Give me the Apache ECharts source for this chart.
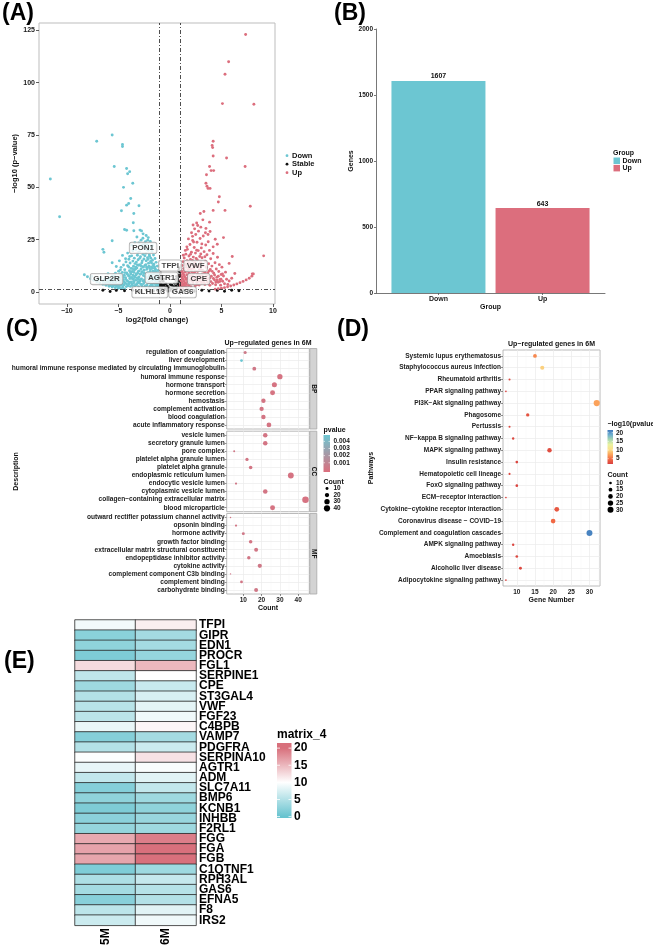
<!DOCTYPE html>
<html>
<head>
<meta charset="utf-8">
<script src="https://cdn.jsdelivr.net/npm/echarts@6/dist/echarts.min.js"></script>
<style>
    html, body { margin: 0; padding: 0; background: #fff; }
    #main { width: 653px; height: 948px; }
</style>
</head>
<body>
<div id="main"></div>
<script>
    // ---------- (A) volcano ----------
    const volcanoDown = [
        [-1.02,1.4],[-1.04,3.6],[-1.07,5.8],[-1.09,8.1],[-1.12,2.5],[-1.14,10.3],[-1.17,4.7],[-1.19,6.9],[-1.22,12.4],[-1.24,1.8],
        [-1.27,3.9],[-1.29,7.6],[-1.32,9.5],[-1.34,14.2],[-1.37,2.9],[-1.39,5.3],[-1.42,11.1],[-1.44,16.0],[-1.47,6.4],[-1.49,8.8],
        [-1.52,1.6],[-1.54,4.2],[-1.57,13.3],[-1.59,17.7],[-1.62,7.1],[-1.64,10.0],[-1.67,2.7],[-1.69,15.2],[-1.72,5.5],[-1.74,19.4],
        [-1.77,8.4],[-1.79,12.0],[-1.82,3.3],[-1.84,6.2],[-1.87,14.6],[-1.89,21.0],[-1.92,9.9],[-1.94,4.6],[-1.97,17.1],[-1.99,11.6],
        [-2.02,2.1],[-2.05,7.7],[-2.07,13.8],[-2.1,19.9],[-2.12,5.0],[-2.15,9.3],[-2.17,16.4],[-2.2,22.6],[-2.22,3.4],[-2.25,11.9],
        [-2.27,6.6],[-2.3,14.9],[-2.32,18.5],[-2.35,8.7],[-2.37,24.1],[-2.4,2.8],[-2.42,12.7],[-2.45,5.9],[-2.47,20.8],[-2.5,10.4],
        [-2.52,15.8],[-2.55,4.1],[-2.57,7.9],[-2.6,18.0],[-2.62,25.7],[-2.65,12.1],[-2.67,2.4],[-2.7,9.7],[-2.72,14.0],[-2.75,6.3],
        [-2.77,21.9],[-2.8,11.0],[-2.82,3.8],[-2.85,16.9],[-2.87,8.5],[-2.9,13.1],[-2.92,5.2],[-2.95,19.2],[-2.97,10.1],[-3.0,7.2],
        [-3.03,2.6],[-3.05,12.8],[-3.08,15.4],[-3.1,4.9],[-3.13,9.0],[-3.15,17.6],[-3.18,6.8],[-3.2,11.5],[-3.23,3.5],[-3.25,14.3],
        [-3.28,8.2],[-3.3,20.3],[-3.33,5.7],[-3.35,10.9],[-3.38,13.6],[-3.4,2.9],[-3.43,7.5],[-3.45,16.2],[-3.48,9.4],[-3.5,4.4],
        [-3.53,12.3],[-3.56,6.1],[-3.59,14.8],[-3.62,3.1],[-3.65,9.8],[-3.68,7.0],[-3.71,17.3],[-3.74,4.8],[-3.77,11.3],[-3.8,8.6],
        [-3.83,2.7],[-3.86,13.9],[-3.89,6.5],[-3.92,10.2],[-3.95,4.0],[-3.98,15.7],[-4.02,7.8],[-4.06,3.0],[-4.1,12.6],[-4.14,5.4],
        [-4.18,9.1],[-4.22,2.6],[-4.26,14.4],[-4.3,6.9],[-4.34,4.3],[-4.38,10.7],[-4.42,8.0],[-4.46,3.4],[-4.5,12.9],[-4.54,5.9],
        [-4.58,2.4],[-4.62,9.4],[-4.66,7.3],[-4.7,4.5],[-4.74,11.8],[-4.78,3.2],[-4.82,6.4],[-4.86,8.7],[-4.9,2.2],[-4.94,5.1],
        [-4.98,10.0],[-5.05,3.6],[-5.1,7.0],[-5.16,2.8],[-5.22,4.9],[-5.28,9.0],[-5.34,3.3],[-5.4,6.2],[-5.46,4.2],[-5.52,2.9],
        [-5.58,7.9],[-5.64,3.7],[-5.7,5.4],[-5.78,3.1],[-5.86,4.6],[-5.94,6.7],[-6.02,3.9],[-6.1,5.5],[-6.2,4.3],[-6.35,6.0],
        [-6.5,5.2],[-6.7,7.0],[-4.4,1.5],[-4.7,1.6],[-5.0,1.8],[-5.3,2.1],[-5.6,2.4],[-5.9,2.8],[-6.2,3.2],[-6.5,3.7],
        [-6.8,4.3],[-7.1,4.9],[-7.4,5.6],[-7.7,6.4],[-8.0,7.3],[-8.3,8.3],[-7.0,5.6],[-7.6,7.4],
        [-1.08,2.9],[-1.13,6.2],[-1.18,9.0],[-1.23,3.1],[-1.28,5.0],[-1.33,7.0],[-1.38,10.6],[-1.43,4.1],[-1.48,12.0],[-1.53,2.4],
        [-1.58,8.9],[-1.63,5.9],[-1.68,11.4],[-1.73,3.7],[-1.78,13.9],[-1.83,7.4],[-1.88,10.8],[-1.93,2.9],[-1.98,8.0],[-2.03,12.3],
        [-2.08,4.6],[-2.13,15.6],[-2.18,6.9],[-2.23,10.9],[-2.28,3.0],[-2.33,13.1],[-2.38,7.3],[-2.43,17.3],[-2.48,4.9],[-2.53,9.1],
        [-2.58,11.9],[-2.63,5.4],[-2.68,14.9],[-2.73,3.3],[-2.78,8.8],[-2.83,12.6],[-2.88,6.0],[-2.93,16.1],[-2.98,4.3],[-3.06,9.9],
        [-3.11,6.1],[-3.16,13.0],[-3.21,4.0],[-3.26,8.6],[-3.31,11.9],[-3.36,3.2],[-3.41,6.9],[-3.46,10.6],[-3.51,5.1],[-3.57,8.0],
        [-3.63,11.2],[-3.69,3.8],[-3.75,6.6],[-3.81,9.5],[-3.87,4.7],[-3.93,7.6],[-3.99,12.0],[-4.04,5.0],[-4.12,8.5],[-4.2,3.9],
        [-4.28,6.1],[-4.36,9.3],[-4.44,4.9],[-4.52,7.0],[-4.6,3.7],[-4.68,5.6],[-4.76,8.2],[-4.84,4.1],[-4.92,6.9],[-5.0,3.1],
        [-5.13,5.6],[-5.25,3.9],[-5.37,7.4],[-5.5,4.9],[-5.62,6.3],[-5.75,4.0],[-5.9,5.5],[-6.05,4.8],[-6.3,4.4],[-2.0,17.8],
        [-2.2,20.2],[-2.4,21.6],[-2.6,22.8],[-2.8,24.8],[-3.0,23.4],[-2.15,24.8],[-1.85,16.2],[-1.6,12.6],[-1.45,9.8],[-1.25,8.2],
        [-1.15,6.6],[-3.1,18.8],[-3.6,19.7],[-3.9,17.0],[-4.3,15.9],[-4.8,10.6],[-5.4,8.3],[-6.0,8.8],[-6.9,6.2],
        [-11.6,54],[-10.7,36],[-7.1,72],[-5.6,75],[-4.6,70.5],[-4.6,69.5],[-5.4,60],[-4.2,59],[-3.9,57.5],[-4.1,56.5],
        [-3.6,52],[-4.5,50],[-3.8,44.7],[-4.0,42.3],[-4.2,41.5],[-4.7,38.8],[-3.0,41.2],[-3.5,37.5],[-3.55,33.1],[-4.4,29.9],
        [-4.2,29.5],[-3.5,29.3],[-2.9,29.6],[-2.75,29.2],[-5.6,24.5],[-6.5,20.4],[-6.4,19],[-5.6,14],[-2.3,27.0],[-2.1,26.0],
        [-1.9,24.2],[-2.6,27.8],[-3.2,26.3],[-3.7,22.4],[-4.1,18.6],[-4.6,17.5],[-4.9,14.9],[-5.2,12.2],[-3.4,23.6],[-2.45,23.0],[-1.7,22.2]
    ];
    const volcanoStable = [
        [-0.9,0.5],[-0.8,1.8],[-0.7,3.1],[-0.6,0.9],[-0.5,2.4],[-0.4,4.0],[-0.3,1.2],[-0.2,0.4],[-0.1,2.0],[0,0.7],
        [0.1,1.5],[0.2,3.3],[0.3,0.3],[0.4,2.6],[0.5,1.1],[0.6,4.5],[0.7,2.0],[0.75,6.2],[0.8,3.7],[0.85,8.0],
        [0.9,5.1],[0.95,9.6],[-0.95,4.8],[-0.85,6.3],[-0.75,2.6],[-0.65,5.0],[-0.95,7.2],[-0.9,3.3],[0.65,7.5],[0.9,11.5],
        [0.55,6.0],[-1.2,0.8],[-1.6,0.5],[-2.3,1.0],[-2.9,0.3],[-3.6,0.9],[-4.4,0.6],[-5.2,0.8],[-5.8,0.3],[-6.5,0.9],
        [1.3,0.6],[1.8,1.0],[2.4,0.4],[3.1,0.9],[3.8,0.5],[4.6,0.8],[5.3,0.4],[6.0,0.9],[6.7,0.6],
        [-0.95,2.2],[-0.85,3.9],[-0.7,5.6],[-0.55,3.4],[-0.45,1.7],[-0.25,2.9],[0.05,3.6],[0.25,1.9],[0.45,4.2],[0.6,2.9],
        [0.7,6.8],[0.8,5.4],[0.85,10.3],[0.95,7.4],[0.9,2.8],[-0.9,9.1],[-0.8,7.6],[-0.6,6.3]
    ];
    const volcanoUp = [
        [1.02,1.5],[1.04,3.4],[1.07,5.6],[1.09,7.9],[1.12,2.4],[1.14,10.0],[1.17,4.5],[1.19,12.7],[1.22,6.6],[1.24,1.9],
        [1.27,8.8],[1.29,14.5],[1.32,3.7],[1.34,11.2],[1.37,5.1],[1.39,16.3],[1.42,7.4],[1.44,2.8],[1.47,9.6],[1.49,13.4],
        [1.52,4.3],[1.55,18.1],[1.57,6.0],[1.6,11.8],[1.62,2.2],[1.65,8.3],[1.67,15.0],[1.7,20.4],[1.72,4.9],[1.75,10.6],
        [1.77,7.0],[1.8,13.9],[1.82,3.1],[1.85,17.2],[1.87,9.1],[1.9,5.8],[1.92,12.3],[1.95,22.7],[1.97,7.7],[2.0,15.6],
        [2.03,2.6],[2.06,10.9],[2.09,19.0],[2.12,5.3],[2.15,13.0],[2.18,8.2],[2.21,24.6],[2.24,3.9],[2.27,16.7],[2.3,11.4],
        [2.33,6.7],[2.36,21.3],[2.39,9.4],[2.42,14.1],[2.45,2.9],[2.48,18.6],[2.51,27.5],[2.54,7.2],[2.57,12.2],[2.6,4.6],
        [2.63,23.8],[2.66,15.3],[2.69,9.9],[2.72,5.6],[2.75,19.8],[2.78,29.1],[2.81,12.9],[2.84,3.4],[2.87,8.1],[2.9,17.0],
        [2.93,25.6],[2.96,6.3],[2.99,14.2],[3.02,10.5],[3.05,21.1],[3.08,4.2],[3.12,16.4],[3.16,8.6],[3.2,12.6],[3.24,26.8],
        [3.28,5.5],[3.32,19.3],[3.36,9.6],[3.4,3.6],[3.44,14.7],[3.48,22.5],[3.52,7.3],[3.56,11.7],[3.6,17.8],[3.64,4.8],
        [3.68,9.2],[3.72,24.0],[3.76,13.5],[3.8,6.5],[3.84,19.9],[3.88,3.2],[3.92,10.8],[3.96,15.9],[4.02,7.6],[4.08,12.4],
        [4.14,4.1],[4.2,18.4],[4.26,9.0],[4.32,5.9],[4.38,14.0],[4.44,3.5],[4.5,11.0],[4.56,7.1],[4.62,16.6],[4.68,4.7],
        [4.74,9.8],[4.8,13.1],[4.86,6.0],[4.92,3.3],[4.98,8.4],[5.05,11.9],[5.12,5.2],[5.2,7.7],[5.3,4.0],[5.4,9.5],
        [5.5,6.1],[5.62,3.6],[5.75,5.3],[4.4,1.4],[4.7,1.6],[5.0,1.8],[5.3,2.1],[5.6,2.5],[5.9,2.9],[6.2,3.4],
        [6.5,3.9],[6.8,4.5],[7.1,5.1],[7.4,5.8],[7.7,6.6],[7.95,7.6],[8.1,8.6],[6.0,6.6],[6.3,8.9],
        [1.06,2.8],[1.11,5.0],[1.16,7.2],[1.21,9.4],[1.26,3.0],[1.31,5.9],[1.36,8.2],[1.41,10.5],[1.46,4.2],[1.51,6.8],
        [1.56,12.9],[1.61,3.6],[1.66,9.9],[1.71,6.4],[1.76,14.4],[1.81,4.6],[1.86,11.0],[1.91,8.5],[1.96,3.9],[2.01,13.3],
        [2.07,6.1],[2.13,9.7],[2.19,15.1],[2.25,4.8],[2.31,8.9],[2.37,12.6],[2.43,6.0],[2.49,10.1],[2.55,16.0],[2.61,3.5],
        [2.67,8.6],[2.73,12.0],[2.79,5.1],[2.85,10.4],[2.91,7.0],[2.97,11.6],[3.03,5.0],[3.1,8.0],[3.18,10.3],[3.26,6.9],
        [3.34,4.4],[3.42,9.0],[3.5,12.0],[3.58,6.0],[3.66,8.2],[3.74,4.0],[3.82,10.1],[3.9,6.8],[3.98,5.0],[4.1,9.9],
        [4.22,6.5],[4.34,8.1],[4.46,4.8],[4.58,5.7],[4.7,7.6],[4.84,5.0],[4.96,6.1],[1.3,17.6],[1.5,19.9],[1.65,21.6],
        [2.0,18.0],[2.3,23.9],[2.6,20.0],[2.2,26.6],[3.0,18.2],[3.4,16.9],[3.1,23.0],
        [7.35,123],[5.7,110],[5.35,104],[5.1,90],[8.15,89.7],[4.2,72],[4.1,70],[4.15,69],[4.2,65],[5.5,64],
        [7.3,60],[3.85,60],[4.0,58],[4.25,58],[3.55,56],[3.5,52],[3.6,50.5],[3.7,49.5],[3.9,49.5],[4.8,45.5],
        [4.7,43],[7.8,41],[5.35,39],[4.2,39],[3.3,38.5],[2.95,37.5],[3.85,33.4],[2.6,33],[2.25,32],[3.0,31],
        [5.2,26],[3.45,28.3],[3.7,27.5],[4.2,21.6],[6.05,17],[5.75,13.7],[9.1,17.3],[5.1,8.6],[8.0,8.7],[2.4,30.2],
        [2.7,31.8],[3.2,34.5],[3.5,30.4],[4.4,25.2],[4.6,22.8],[3.9,28.9],[2.1,28.3],[1.8,25.4]
    ];
    const volcanoLabels = [
        ['PON1', -2.6, 21.1], ['TFPI', 0.03, 12.7], ['VWF', 2.5, 12.5], ['AGTR1', -0.8, 6.8],
        ['CPE', 2.8, 6.2], ['GLP2R', -6.15, 6.2], ['KLHL13', -1.94, -0.1], ['GAS6', 1.23, -0.1]
    ];
    const volcanoXTicks = [-10, -5, 0, 5, 10];
    const volcanoYTicks = [0, 25, 50, 75, 100, 125];

    // ---------- (B) bar ----------
    const barGroups = ['Down', 'Up'];
    const barValues = [1607, 643];
    const barYTicks = [0, 500, 1000, 1500, 2000];

    // ---------- (C) GO dot plot ----------
    const goBP = ['regulation of coagulation', 'liver development', 'humoral immune response mediated by circulating immunoglobulin',
        'humoral immune response', 'hormone transport', 'hormone secretion', 'hemostasis', 'complement activation',
        'blood coagulation', 'acute inflammatory response'];
    const goBPCount = [11, 9, 16, 30, 27, 26, 21, 20, 21, 24];
    const goBPP = [0.0004, 0.0049, 0.0003, 0.00001, 0.00002, 0.00003, 0.0001, 0.0001, 0.0001, 0.00005];
    const goCC = ['vesicle lumen', 'secretory granule lumen', 'pore complex', 'platelet alpha granule lumen', 'platelet alpha granule',
        'endoplasmic reticulum lumen', 'endocytic vesicle lumen', 'cytoplasmic vesicle lumen',
        'collagen\u2212containing extracellular matrix', 'blood microparticle'];
    const goCCCount = [22, 22, 5, 12, 14, 36, 6, 22, 44, 26];
    const goCCP = [0.0001, 0.0001, 0.0003, 0.0002, 0.0001, 0.00001, 0.0003, 0.0001, 0.000001, 0.00001];
    const goMF = ['outward rectifier potassium channel activity', 'opsonin binding', 'hormone activity', 'growth factor binding',
        'extracellular matrix structural constituent', 'endopeptidase inhibitor activity', 'cytokine activity',
        'complement component C3b binding', 'complement binding', 'carbohydrate binding'];
    const goMFCount = [3, 6, 10, 14, 17, 13, 19, 3, 9, 17];
    const goMFP = [0.0003, 0.0002, 0.0003, 0.0001, 0.0002, 0.0002, 0.0003, 0.0003, 0.0002, 0.0003];
    const goXTicks = [10, 20, 30, 40];
    const goPTicks = [0.001, 0.002, 0.003, 0.004];
    const goSizeBreaks = [10, 20, 30, 40];

    // ---------- (D) KEGG dot plot ----------
    const keggNames = ['Systemic lupus erythematosus', 'Staphylococcus aureus infection', 'Rheumatoid arthritis',
        'PPAR signaling pathway', 'PI3K\u2212Akt signaling pathway', 'Phagosome', 'Pertussis', 'NF\u2212kappa B signaling pathway',
        'MAPK signaling pathway', 'Insulin resistance', 'Hematopoietic cell lineage', 'FoxO signaling pathway',
        'ECM\u2212receptor interaction', 'Cytokine\u2212cytokine receptor interaction', 'Coronavirus disease \u2212 COVID\u221219',
        'Complement and coagulation cascades', 'AMPK signaling pathway', 'Amoebiasis', 'Alcoholic liver disease',
        'Adipocytokine signaling pathway'];
    const keggCount = [15, 17, 8, 7, 32, 13, 8, 9, 19, 10, 8, 10, 7, 21, 20, 30, 9, 10, 11, 7];
    const keggLogP = [6.2, 9.6, 2.6, 2.3, 7.4, 3.3, 2.6, 2.5, 2.9, 2.4, 2.5, 2.3, 2.2, 3.6, 4.6, 21.0, 2.4, 2.5, 2.6, 2.2];
    const keggXTicks = [10, 15, 20, 25, 30];
    const keggColorTicks = [5, 10, 15, 20];
    const keggSizeBreaks = [10, 15, 20, 25, 30];

    // ---------- (E) heatmap ----------
    const heatCols = ['5M', '6M'];
    const heatGenes = ['TFPI', 'GIPR', 'EDN1', 'PROCR', 'FGL1', 'SERPINE1', 'CPE', 'ST3GAL4', 'VWF', 'FGF23', 'C4BPB', 'VAMP7',
        'PDGFRA', 'SERPINA10', 'AGTR1', 'ADM', 'SLC7A11', 'BMP6', 'KCNB1', 'INHBB', 'F2RL1', 'FGG', 'FGA', 'FGB', 'C1QTNF1',
        'RPH3AL', 'GAS6', 'EFNA5', 'F8', 'IRS2'];
    const heat5M = [9.2, 2.3, 2.6, 1.5, 12.5, 5.8, 3.6, 5.0, 5.3, 5.5, 8.6, 2.0, 5.0, 9.8, 8.5, 6.0, 2.0, 2.6, 1.5, 2.4, 3.0,
        16.0, 16.5, 16.3, 1.6, 4.6, 4.0, 2.2, 5.6, 6.6];
    const heat6M = [11.2, 4.0, 4.0, 3.0, 15.0, 10.0, 6.4, 7.4, 8.2, 9.0, 10.6, 4.0, 6.6, 12.0, 9.6, 8.0, 6.0, 3.6, 2.6, 3.2, 3.6,
        19.0, 20.0, 20.0, 3.6, 6.2, 5.2, 5.0, 8.0, 9.0];
    const heatTicks = [0, 5, 10, 15, 20];

    // ---------- style ----------
    const FONT = '"Liberation Sans", Arial, sans-serif';
    const CYAN = '#6CC6D2';
    const PINK = '#DC6E7D';
    const minus = v => (v < 0 ? '\u2212' + Math.abs(v) : String(v));
    const bold = (size, color) => ({ fontFamily: FONT, fontWeight: 'bold', fontSize: size, color: color || '#1a1a1a' });
    const txt = (x, y, s, o) => ({
        type: 'text', x: x, y: y, silent: true, rotation: (o && o.rotation) || 0,
        style: Object.assign({ text: s, fontFamily: FONT, fontWeight: 'bold', fontSize: 7, fill: '#111', align: 'left', verticalAlign: 'middle' }, o && o.style)
    });
    const sizeGO = c => Math.max(1.3, 6.5 * Math.sqrt((c - 1) / 43));
    const sizeKEGG = c => Math.max(1.4, 6.2 * Math.sqrt((c - 5) / 27));

    const chart = echarts.init(document.getElementById('main'), null, { renderer: 'canvas', width: 653, height: 948 });

    const grids = [
        { left: 39, top: 23, width: 236, height: 281, show: true, borderColor: '#BDBDBD', borderWidth: 1, backgroundColor: '#fff' },
        { left: 376, top: 29, width: 229, height: 264 },
        { left: 226.7, top: 348.5, width: 82.6, height: 80.5, show: true, borderColor: '#A8A8A8', borderWidth: 0.8, backgroundColor: '#fff' },
        { left: 226.7, top: 431.2, width: 82.6, height: 80.5, show: true, borderColor: '#A8A8A8', borderWidth: 0.8, backgroundColor: '#fff' },
        { left: 226.7, top: 513.5, width: 82.6, height: 80.5, show: true, borderColor: '#A8A8A8', borderWidth: 0.8, backgroundColor: '#fff' },
        { left: 503, top: 350, width: 97, height: 236, show: true, borderColor: '#A8A8A8', borderWidth: 0.8, backgroundColor: '#fff' },
        { left: 75, top: 620, width: 121, height: 308.3 }
    ];

    const noLine = { show: false, onZero: false };
    const goX = (gi, last) => ({
        gridIndex: gi, type: 'value', min: 0.9, max: 46.1,
        axisLine: noLine, splitLine: { show: false },
        axisTick: { show: last, customValues: goXTicks, length: 2, lineStyle: { color: '#444', width: 0.6 } },
        axisLabel: { show: last, customValues: goXTicks, margin: 3, ...bold(6.5, '#222') },
        name: last ? 'Count' : '', nameLocation: 'middle', nameGap: 9, nameTextStyle: bold(7, '#111')
    });
    const catY = (gi, data, fs, name, gap) => ({
        gridIndex: gi, type: 'category', data: data, inverse: true,
        axisLine: noLine, splitLine: { show: false },
        axisTick: { show: true, alignWithLabel: true, length: 2, lineStyle: { color: '#444', width: 0.6 } },
        axisLabel: { interval: 0, margin: 2, ...bold(fs, '#222') },
        name: name || '', nameLocation: 'middle', nameGap: gap || 0, nameTextStyle: bold(7, '#111')
    });

    const xAxes = [
        {
            gridIndex: 0, type: 'value', min: -12.7, max: 10.2, axisLine: noLine, splitLine: { show: false },
            axisTick: { customValues: volcanoXTicks, length: 3, lineStyle: { color: '#333', width: 0.8 } },
            axisLabel: { customValues: volcanoXTicks, formatter: minus, margin: 4, ...bold(7) },
            name: 'log2(fold change)', nameLocation: 'middle', nameGap: 11, nameTextStyle: bold(7.5, '#111')
        },
        {
            gridIndex: 1, type: 'value', min: 0.4, max: 2.6, splitLine: { show: false },
            axisLine: { show: true, onZero: false, lineStyle: { color: '#555', width: 0.8 } },
            axisTick: { customValues: [1, 2], length: 2, lineStyle: { color: '#555', width: 0.8 } },
            axisLabel: { customValues: [1, 2], formatter: v => barGroups[Math.round(v) - 1], margin: 3, ...bold(7) },
            name: 'Group', nameLocation: 'middle', nameGap: 7, nameTextStyle: bold(7, '#111')
        },
        goX(2, false), goX(3, false), goX(4, true),
        {
            gridIndex: 5, type: 'value', min: 6.2, max: 32.9, axisLine: noLine, splitLine: { show: false },
            axisTick: { customValues: keggXTicks, length: 2, lineStyle: { color: '#444', width: 0.6 } },
            axisLabel: { customValues: keggXTicks, margin: 3, ...bold(6.5, '#222') },
            name: 'Gene Number', nameLocation: 'middle', nameGap: 9, nameTextStyle: bold(7, '#111')
        },
        {
            gridIndex: 6, type: 'category', data: heatCols, position: 'bottom',
            axisLine: noLine, axisTick: { show: false }, splitLine: { show: false },
            axisLabel: { rotate: 90, margin: 3, interval: 0, ...bold(12, '#000') }
        }
    ];

    const yAxes = [
        {
            gridIndex: 0, type: 'value', min: -5.7, max: 128.5, axisLine: noLine, splitLine: { show: false },
            axisTick: { customValues: volcanoYTicks, length: 3, lineStyle: { color: '#333', width: 0.8 } },
            axisLabel: { customValues: volcanoYTicks, margin: 4, ...bold(7) },
            name: '\u2212log10 (p\u2212value)', nameLocation: 'middle', nameGap: 13, nameTextStyle: bold(7.5, '#111')
        },
        {
            gridIndex: 1, type: 'value', min: 0, max: 2000, splitLine: { show: false },
            axisLine: { show: true, onZero: false, lineStyle: { color: '#555', width: 0.8 } },
            axisTick: { show: true, customValues: barYTicks, length: 2, lineStyle: { color: '#555', width: 0.8 } },
            axisLabel: { customValues: barYTicks, formatter: v => String(v), margin: 3, ...bold(6.5) },
            name: 'Genes', nameLocation: 'middle', nameGap: 19, nameTextStyle: bold(7, '#111')
        },
        catY(2, goBP, 6.6), catY(3, goCC, 6.6, 'Description', 207), catY(4, goMF, 6.6),
        catY(5, keggNames, 6.5, 'Pathways', 117),
        {
            gridIndex: 6, type: 'category', data: heatGenes, inverse: true, position: 'right',
            axisLine: noLine, axisTick: { show: false }, splitLine: { show: false },
            axisLabel: { interval: 0, margin: 3, ...bold(12, '#000') }
        }
    ];

    // grid lines drawn as mark lines so they sit exactly on the ggplot breaks
    const gridLines = (axisIdx, xs, minors, cats) => ({
        type: 'scatter', xAxisIndex: axisIdx, yAxisIndex: axisIdx, data: [], z: 1, silent: true,
        markLine: {
            silent: true, z: 1, symbol: ['none', 'none'], label: { show: false }, animation: false,
            lineStyle: { color: '#EBEBEB', width: 0.7, type: 'solid' },
            data: xs.map(v => ({ xAxis: v }))
                .concat(minors.map(v => ({ xAxis: v, lineStyle: { color: '#F3F3F3', width: 0.4, type: 'solid' } })))
                .concat(cats.map(c => ({ yAxis: c })))
        }
    });

    const series = [];
    const dot = { opacity: 1 };
    series.push({ type: 'scatter', name: 'Down', xAxisIndex: 0, yAxisIndex: 0, data: volcanoDown, symbolSize: 2.9, itemStyle: { color: CYAN, opacity: 1 }, z: 3 });
    series.push({ type: 'scatter', name: 'Stable', xAxisIndex: 0, yAxisIndex: 0, data: volcanoStable, symbolSize: 2.9, itemStyle: { color: '#111', opacity: 1 }, z: 3 });
    series.push({ type: 'scatter', name: 'Up', xAxisIndex: 0, yAxisIndex: 0, data: volcanoUp, symbolSize: 2.9, itemStyle: { color: PINK, opacity: 1 }, z: 3 });
    series.push({
        type: 'line', xAxisIndex: 0, yAxisIndex: 0, data: [], z: 4, silent: true,
        markLine: {
            silent: true, symbol: ['none', 'none'], label: { show: false }, animation: false,
            lineStyle: { color: '#222', width: 0.8, type: [4, 2, 1, 2] },
            data: [{ xAxis: -1 }, { xAxis: 1 }, { yAxis: 1.3 }]
        }
    });
    series.push({
        type: 'scatter', xAxisIndex: 0, yAxisIndex: 0, z: 6, symbolSize: 1, itemStyle: { color: 'transparent' },
        data: volcanoLabels.map(l => [l[1], l[2], l[0]]),
        label: {
            show: true, position: 'inside', formatter: p => p.data[2], ...bold(8, '#111'),
            backgroundColor: '#fff', borderColor: '#9E9E9E', borderWidth: 0.8, borderRadius: 2, padding: [1.5, 2.5, 1, 2.5]
        },
        labelLayout: { hideOverlap: false }
    });
    series.push({
        type: 'bar', xAxisIndex: 1, yAxisIndex: 1, barWidth: 94,
        data: barGroups.map((g, i) => ({ value: [i + 1, barValues[i]], itemStyle: { color: i === 0 ? CYAN : PINK } })),
        label: { show: true, position: 'top', distance: 1, formatter: p => p.value[1], ...bold(7, '#111') }
    });
    series.push(gridLines(2, goXTicks, [5, 15, 25, 35, 45], goBP));
    series.push(gridLines(3, goXTicks, [5, 15, 25, 35, 45], goCC));
    series.push(gridLines(4, goXTicks, [5, 15, 25, 35, 45], goMF));
    const goIdx = [];
    [[goBP, goBPCount, goBPP], [goCC, goCCCount, goCCP], [goMF, goMFCount, goMFP]].forEach((f, k) => {
        goIdx.push(series.length);
        series.push({
            type: 'scatter', xAxisIndex: 2 + k, yAxisIndex: 2 + k, z: 3, itemStyle: dot,
            data: f[0].map((t, i) => [f[1][i], t, f[2][i]]),
            symbolSize: d => sizeGO(d[0])
        });
    });
    series.push(gridLines(5, keggXTicks, [7.5, 12.5, 17.5, 22.5, 27.5, 32.5], keggNames));
    const keggIdx = series.length;
    series.push({
        type: 'scatter', xAxisIndex: 5, yAxisIndex: 5, z: 3, itemStyle: dot,
        data: keggNames.map((t, i) => [keggCount[i], t, keggLogP[i]]),
        symbolSize: d => sizeKEGG(d[0])
    });
    const heatIdx = series.length;
    const heatData = [];
    heatGenes.forEach((g, i) => { heatData.push([0, i, heat5M[i]]); heatData.push([1, i, heat6M[i]]); });
    series.push({
        type: 'heatmap', xAxisIndex: 6, yAxisIndex: 6, data: heatData,
        itemStyle: { borderColor: '#2a2a2a', borderWidth: 0.8 }
    });

    const goColors = [PINK, CYAN];
    const keggColors = ['#D73F3F', '#F26A44', '#FBA55C', '#FBE08A', '#E9F2A0', '#A9D8B0', '#6DAFCF', '#3F78BC'];
    const heatColors = ['#67C3CF', '#FFFFFF', '#D8707C'];
    const goPRange = [-0.0003, 0.0049];
    const keggRange = [1.94, 21.56];

    const visualMaps = [
        { type: 'continuous', show: false, seriesIndex: goIdx, dimension: 2, min: goPRange[0], max: goPRange[1], inRange: { color: goColors } },
        { type: 'continuous', show: false, seriesIndex: keggIdx, dimension: 2, min: keggRange[0], max: keggRange[1], inRange: { color: keggColors } },
        { type: 'continuous', show: false, seriesIndex: heatIdx, dimension: 2, min: 0, max: 20, inRange: { color: heatColors } }
    ];

    // ---------- legends, strips, titles ----------
    const g = [];
    g.push(txt(2, 14, '(A)', { style: { fontSize: 23, fill: '#000' } }));
    g.push(txt(334, 14, '(B)', { style: { fontSize: 23, fill: '#000' } }));
    g.push(txt(6, 330, '(C)', { style: { fontSize: 23, fill: '#000' } }));
    g.push(txt(337, 330, '(D)', { style: { fontSize: 23, fill: '#000' } }));
    g.push(txt(4, 662, '(E)', { style: { fontSize: 23, fill: '#000' } }));

    // A legend
    [['Down', CYAN], ['Stable', '#111'], ['Up', PINK]].forEach((it, i) => {
        const y = 155.7 + i * 8.5;
        g.push({ type: 'circle', shape: { cx: 287, cy: y, r: 1.4 }, style: { fill: it[1] }, silent: true });
        g.push(txt(292, y, it[0], { style: { fontSize: 7.5 } }));
    });

    // B legend
    g.push(txt(613, 152.7, 'Group', { style: { fontSize: 7 } }));
    [['Down', CYAN], ['Up', PINK]].forEach((it, i) => {
        const y = 157.5 + i * 7.4;
        g.push({ type: 'rect', shape: { x: 613.5, y: y, width: 6.5, height: 6.5 }, style: { fill: it[1] }, silent: true });
        g.push(txt(622.5, y + 3.3, it[0], { style: { fontSize: 7 } }));
    });

    // C title, strips and legends
    g.push(txt(268, 343, 'Up\u2212regulated genes in 6M', { style: { fontSize: 7, align: 'center' } }));
    [['BP', 348.5], ['CC', 431.2], ['MF', 513.5]].forEach(s => {
        g.push({ type: 'rect', shape: { x: 309.8, y: s[1], width: 7, height: 80.5 }, style: { fill: '#D3D3D3', stroke: '#A8A8A8', lineWidth: 0.8 }, silent: true });
        g.push(txt(313.3, s[1] + 40.25, s[0], { rotation: -Math.PI / 2, style: { fontSize: 6.5, align: 'center' } }));
    });
    g.push(txt(323.5, 430, 'pvalue', { style: { fontSize: 7 } }));
    const cbC = { x: 323.5, y: 435, w: 6.5, h: 37 };
    g.push({
        type: 'rect', shape: { x: cbC.x, y: cbC.y, width: cbC.w, height: cbC.h }, silent: true,
        style: { fill: new echarts.graphic.LinearGradient(0, 0, 0, 1, [{ offset: 0, color: CYAN }, { offset: 1, color: PINK }]) }
    });
    goPTicks.forEach(v => {
        const y = cbC.y + (goPRange[1] - v) / (goPRange[1] - goPRange[0]) * cbC.h;
        g.push({ type: 'line', shape: { x1: cbC.x, y1: y, x2: cbC.x + 1.5, y2: y }, style: { stroke: '#fff', lineWidth: 0.6 }, silent: true });
        g.push({ type: 'line', shape: { x1: cbC.x + cbC.w - 1.5, y1: y, x2: cbC.x + cbC.w, y2: y }, style: { stroke: '#fff', lineWidth: 0.6 }, silent: true });
        g.push(txt(333.5, y, v.toFixed(3), { style: { fontSize: 6.5 } }));
    });
    g.push(txt(323.5, 482, 'Count', { style: { fontSize: 7 } }));
    goSizeBreaks.forEach((c, i) => {
        const y = 488.5 + i * 6.6;
        g.push({ type: 'circle', shape: { cx: 327, cy: y, r: sizeGO(c) / 2 }, style: { fill: '#000' }, silent: true });
        g.push(txt(333.5, y, String(c), { style: { fontSize: 6.5 } }));
    });

    // D title and legends
    g.push(txt(551.5, 344, 'Up\u2212regulated genes in 6M', { style: { fontSize: 7, align: 'center' } }));
    g.push(txt(607.5, 424, '\u2212log10(pvalue)', { style: { fontSize: 7 } }));
    const cbD = { x: 607.5, y: 430, w: 5.5, h: 34 };
    g.push({
        type: 'rect', shape: { x: cbD.x, y: cbD.y, width: cbD.w, height: cbD.h }, silent: true,
        style: {
            fill: new echarts.graphic.LinearGradient(0, 0, 0, 1,
                keggColors.slice().reverse().map((c, i) => ({ offset: i / (keggColors.length - 1), color: c })))
        }
    });
    keggColorTicks.forEach(v => {
        const y = cbD.y + (keggRange[1] - v) / (keggRange[1] - keggRange[0]) * cbD.h;
        g.push({ type: 'line', shape: { x1: cbD.x, y1: y, x2: cbD.x + 1.3, y2: y }, style: { stroke: '#fff', lineWidth: 0.6 }, silent: true });
        g.push({ type: 'line', shape: { x1: cbD.x + cbD.w - 1.3, y1: y, x2: cbD.x + cbD.w, y2: y }, style: { stroke: '#fff', lineWidth: 0.6 }, silent: true });
        g.push(txt(616, y, String(v), { style: { fontSize: 6.5 } }));
    });
    g.push(txt(607.5, 475, 'Count', { style: { fontSize: 7 } }));
    keggSizeBreaks.forEach((c, i) => {
        const y = 483 + i * 6.7;
        g.push({ type: 'circle', shape: { cx: 610.5, cy: y, r: sizeKEGG(c) / 2 }, style: { fill: '#000' }, silent: true });
        g.push(txt(616, y, String(c), { style: { fontSize: 6.5 } }));
    });

    // E legend
    g.push(txt(277, 735, 'matrix_4', { style: { fontSize: 12, fill: '#000' } }));
    const cbE = { x: 277, y: 743, w: 14.5, h: 75, top: 21.5, bottom: -0.4 };
    const offE = v => (cbE.top - v) / (cbE.top - cbE.bottom);
    g.push({
        type: 'rect', shape: { x: cbE.x, y: cbE.y, width: cbE.w, height: cbE.h }, silent: true,
        style: {
            fill: new echarts.graphic.LinearGradient(0, 0, 0, 1, [
                { offset: 0, color: heatColors[2] }, { offset: offE(20), color: heatColors[2] },
                { offset: offE(10), color: heatColors[1] },
                { offset: offE(0), color: heatColors[0] }, { offset: 1, color: heatColors[0] }
            ])
        }
    });
    heatTicks.forEach(v => {
        const y = cbE.y + offE(v) * cbE.h;
        g.push({ type: 'line', shape: { x1: cbE.x, y1: y, x2: cbE.x + 3, y2: y }, style: { stroke: '#fff', lineWidth: 0.8 }, silent: true });
        g.push({ type: 'line', shape: { x1: cbE.x + cbE.w - 3, y1: y, x2: cbE.x + cbE.w, y2: y }, style: { stroke: '#fff', lineWidth: 0.8 }, silent: true });
        g.push(txt(294, y, String(v), { style: { fontSize: 12, fill: '#000' } }));
    });

    const option = {
        animation: false,
        backgroundColor: '#fff',
        textStyle: { fontFamily: FONT },
        grid: grids,
        xAxis: xAxes,
        yAxis: yAxes,
        visualMap: visualMaps,
        series: series,
        graphic: g
    };

    chart.setOption(option, true);
</script>
</body>
</html>
